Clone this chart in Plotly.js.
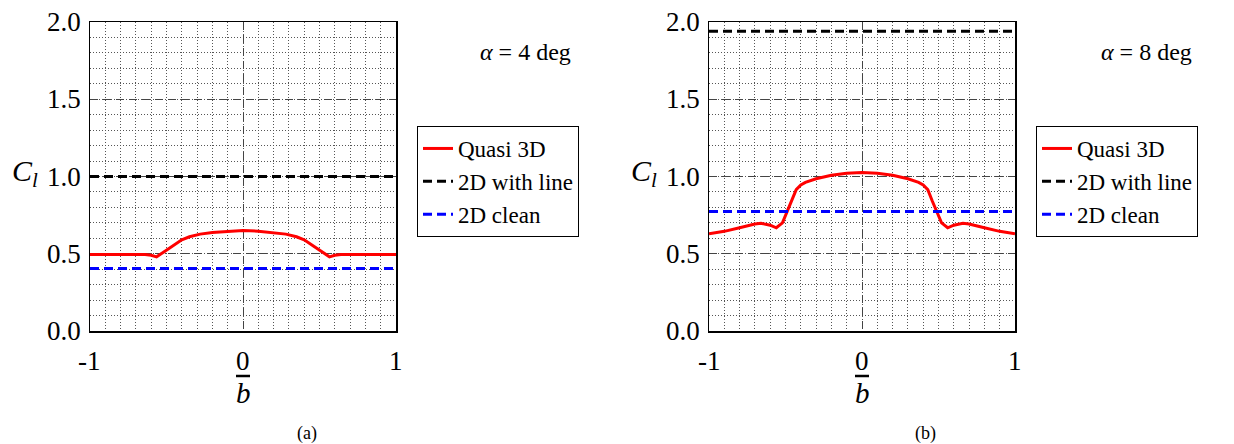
<!DOCTYPE html>
<html>
<head>
<meta charset="utf-8">
<script src="https://cdn.plot.ly/plotly-3.0.1.min.js"></script>
<style>html,body{margin:0;padding:0;background:#fff;}#chart{width:1234px;height:444px;}</style>
</head>
<body>
<div id="chart"></div>
<script>
// ---- data ----
const spanA = [-1, -0.8, -0.64, -0.6, -0.565, -0.52, -0.46, -0.40, -0.35, -0.28, -0.2, -0.1, 0, 0.1, 0.2, 0.28, 0.35, 0.40, 0.46, 0.52, 0.565, 0.6, 0.64, 0.8, 1];
const quasi3dA = [0.495, 0.495, 0.495, 0.49, 0.48, 0.51, 0.55, 0.59, 0.61, 0.627, 0.638, 0.646, 0.65, 0.646, 0.638, 0.627, 0.61, 0.59, 0.55, 0.51, 0.48, 0.49, 0.495, 0.495, 0.495];
const lineX = [-1, 1];
const withLineA = [1.0, 1.0];
const cleanA = [0.405, 0.405];

const spanB = [-1, -0.9, -0.8, -0.7, -0.66, -0.6, -0.56, -0.52, -0.495, -0.46, -0.43, -0.40, -0.37, -0.3, -0.2, -0.1, 0, 0.1, 0.2, 0.3, 0.37, 0.40, 0.43, 0.46, 0.495, 0.52, 0.56, 0.6, 0.66, 0.7, 0.8, 0.9, 1];
const quasi3dB = [0.629, 0.645, 0.668, 0.693, 0.697, 0.685, 0.668, 0.70, 0.76, 0.84, 0.915, 0.945, 0.962, 0.985, 1.008, 1.021, 1.026, 1.021, 1.008, 0.985, 0.962, 0.945, 0.915, 0.84, 0.76, 0.70, 0.668, 0.685, 0.697, 0.693, 0.668, 0.645, 0.629];
const withLineB = [1.94, 1.94];
const cleanB = [0.773, 0.773];

const xTicks = [-1, 0, 1];
const xTickText = ['-1', '0', '1'];
const yTicks = [0, 0.5, 1.0, 1.5, 2.0];
const yTickText = ['0.0', '0.5', '1.0', '1.5', '2.0'];
const names = ['Quasi 3D', '2D with line', '2D clean'];
const panelLabels = ['(a)', '(b)'];
const alphaLabels = ['<i>α</i> = 4 deg', '<i>α</i> = 8 deg'];

// ---- styling ----
const FONT = 'Liberation Serif';
const dashStyle = '9px,5px';

function traces(xq, yq, ywl, ycl, xa, ya, lg) {
  return [
    {x: xq, y: yq, xaxis: xa, yaxis: ya, legend: lg, name: names[0], mode: 'lines',
     line: {color: '#ff0000', width: 3}},
    {x: lineX, y: ywl, xaxis: xa, yaxis: ya, legend: lg, name: names[1], mode: 'lines',
     line: {color: '#000000', width: 3, dash: dashStyle}},
    {x: lineX, y: ycl, xaxis: xa, yaxis: ya, legend: lg, name: names[2], mode: 'lines',
     line: {color: '#0000ff', width: 3, dash: dashStyle}}
  ];
}

const data = [].concat(
  traces(spanA, quasi3dA, withLineA, cleanA, 'x', 'y', 'legend'),
  traces(spanB, quasi3dB, withLineB, cleanB, 'x2', 'y2', 'legend2')
);

function axisBase(domain, anchor, rng, vals) {
  return {
    domain: domain, anchor: anchor, range: rng,
    tickmode: 'array', tickvals: vals, showticklabels: false,
    ticks: '',
    showgrid: true, gridcolor: '#444', gridwidth: 1, griddash: '8px,5px',
    minor: {dtick: 0.1, showgrid: true, gridcolor: '#555', gridwidth: 1, griddash: '1px,2px'},
    showline: true, mirror: true, linecolor: '#000', linewidth: 1.5,
    zeroline: false, fixedrange: true, automargin: false
  };
}

const W = 1234, H = 444;
const yDom = [1 - 331 / H, 1 - 22 / H];
const legendBase = {
  yanchor: 'top', xanchor: 'left', y: 1 - 126 / H,
  bgcolor: '#fff', bordercolor: '#000', borderwidth: 1,
  font: {family: FONT, size: 23, color: '#000'},
  tracegroupgap: 0
};

const tickFont = {family: FONT, size: 27, color: '#000'};
const annotations = [];
const panelCenters = [243, 862];
const axisLeft = [90, 709];
const alphaX = [525, 1146];
const axIds = [['x', 'y'], ['x2', 'y2']];
for (let i = 0; i < 2; i++) {
  const [xa, ya] = axIds[i];
  // tick labels placed through the axes' own scales
  yTicks.forEach((v, k) => annotations.push({xref: xa, yref: ya, x: -1, y: v,
    text: yTickText[k], showarrow: false, xanchor: 'right', yanchor: 'middle', xshift: -7,
    font: tickFont}));
  xTicks.forEach((v, k) => annotations.push({xref: xa, yref: ya, x: v, y: 0,
    text: xTickText[k], showarrow: false, xanchor: 'center', yanchor: 'middle', yshift: -30,
    font: tickFont}));
  annotations.push({xref: 'paper', yref: 'paper', x: alphaX[i] / W, y: 1 - 52 / H,
    text: alphaLabels[i], showarrow: false, xanchor: 'center', yanchor: 'middle',
    font: {family: FONT, size: 24, color: '#000'}});
  annotations.push({xref: 'paper', yref: 'paper', x: (axisLeft[i] - 50) / W, y: 1 - 173 / H,
    text: '<i>C</i><sub><i>l</i></sub>', showarrow: false, xanchor: 'right', yanchor: 'middle',
    font: {family: FONT, size: 30, color: '#000'}});
  annotations.push({xref: 'paper', yref: 'paper', x: panelCenters[i] / W, y: 1 - 393 / H,
    text: '<i>b</i>', showarrow: false, xanchor: 'center', yanchor: 'middle',
    font: {family: FONT, size: 29, color: '#000'}});
  annotations.push({xref: 'paper', yref: 'paper', x: (panelCenters[i] + 64) / W, y: 1 - 433 / H,
    text: panelLabels[i], showarrow: false, xanchor: 'center', yanchor: 'middle',
    font: {family: FONT, size: 18, color: '#000'}});
}
const shapes = panelCenters.map(c => ({
  type: 'line', xref: 'paper', yref: 'paper',
  x0: (c - 7) / W, x1: (c + 7) / W, y0: 1 - 376 / H, y1: 1 - 376 / H,
  line: {color: '#000', width: 2.5}
}));

const layout = {
  width: W, height: H,
  font: {family: FONT, size: 24, color: '#000'},
  margin: {l: 0, r: 0, t: 0, b: 0},
  paper_bgcolor: '#fff', plot_bgcolor: '#fff',
  showlegend: true,
  xaxis: axisBase([90 / W, 396 / W], 'y', [-1, 1], xTicks),
  yaxis: axisBase(yDom, 'x', [0, 2], yTicks),
  xaxis2: axisBase([709 / W, 1015 / W], 'y2', [-1, 1], xTicks),
  yaxis2: axisBase(yDom, 'x2', [0, 2], yTicks),
  legend: Object.assign({}, legendBase, {x: 417 / W}),
  legend2: Object.assign({}, legendBase, {x: 1036 / W}),
  annotations: annotations,
  shapes: shapes
};

Plotly.newPlot('chart', data, layout, {displayModeBar: false, staticPlot: true});
</script>
</body>
</html>
